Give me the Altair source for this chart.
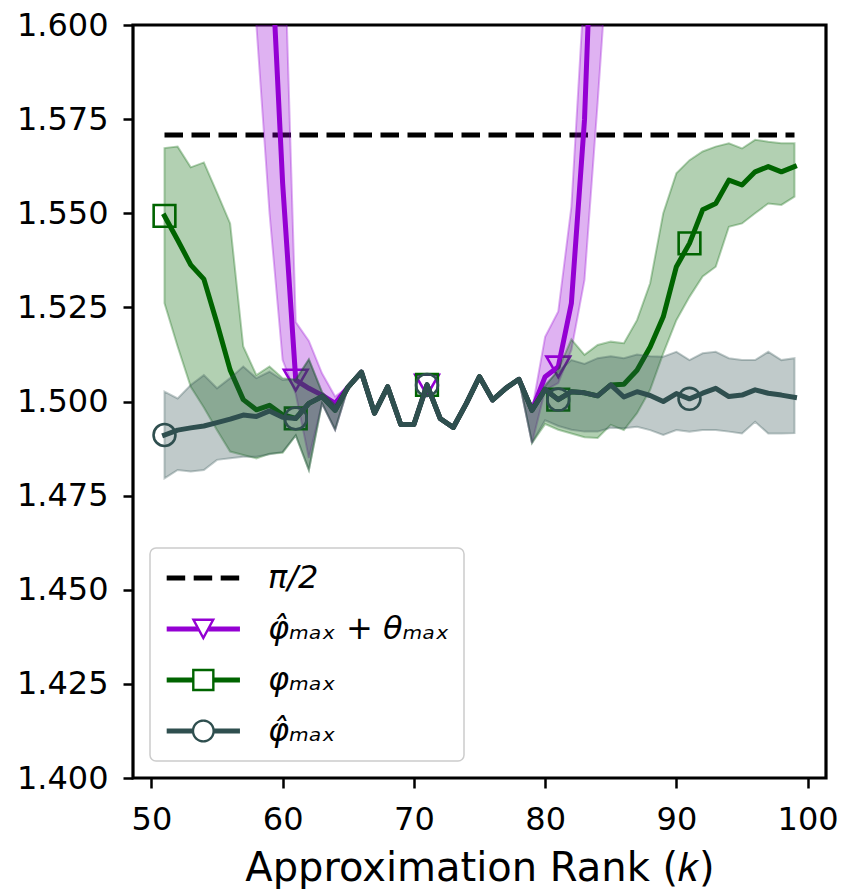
import math
import altair as alt
import pandas as pd

# ---------------- data ----------------
K = list(range(51, 100))
MARKER_K = [51, 61, 71, 81, 91]
X_TICKS = [50, 60, 70, 80, 90, 100]
Y_TICKS = [1.400, 1.425, 1.450, 1.475, 1.500, 1.525, 1.550, 1.575, 1.600]
KEYS = ["pi_half", "phi_hat_theta", "phi", "phi_hat"]
SERIES = ["\u03c0/2",
          "\u03c6\u0302\u2098\u2090\u2093 + \u03b8\u2098\u2090\u2093",
          "\u03c6\u2098\u2090\u2093",
          "\u03c6\u0302\u2098\u2090\u2093"]
COLORS = ["#000000", "#9400d3", "#006400", "#2f4f4f"]
PI_HALF = math.pi / 2

# phi_hat_max + theta_max (purple)
PURPLE = [2.10, 2.04, 1.98, 1.92, 1.86, 1.80, 1.74, 1.69, 1.6295, 1.5580,
          1.5057, 1.5035, 1.5017, 1.4995, 1.5039, 1.5078, 1.4969, 1.5039, 1.4939, 1.4939,
          1.5044, 1.4955, 1.4931, 1.4995, 1.5066, 1.5004, 1.5035, 1.5059, 1.4977, 1.5066,
          1.5092, 1.5261, 1.5748, 1.6686, 1.76, 1.84, 1.92, 1.99, 2.06, 2.12,
          2.18, 2.23, 2.28, 2.33, 2.37, 2.41, 2.45, 2.48, 2.51]
PURPLE_LO = [2.00, 1.95, 1.90, 1.85, 1.79, 1.73, 1.66, 1.600, 1.5501, 1.5110,
             1.5020, 1.4850, 1.4995, 1.4925, 1.5039, 1.5078, 1.4969, 1.5039, 1.4939, 1.4939,
             1.5044, 1.4955, 1.4931, 1.4995, 1.5066, 1.5004, 1.5035, 1.5059, 1.4890, 1.5030,
             1.5049, 1.5137, 1.5323, 1.5793, 1.630, 1.70, 1.78, 1.85, 1.92, 1.98,
             2.04, 2.09, 2.14, 2.19, 2.23, 2.27, 2.31, 2.34, 2.37]
PURPLE_HI = [2.20, 2.14, 2.08, 2.01, 1.95, 1.89, 1.83, 1.77, 1.72, 1.638,
             1.5211, 1.5161, 1.5075, 1.5013, 1.5039, 1.5078, 1.4969, 1.5039, 1.4939, 1.4939,
             1.5044, 1.4955, 1.4931, 1.4995, 1.5066, 1.5004, 1.5035, 1.5059, 1.4977, 1.5172,
             1.5239, 1.5517, 1.6112, 1.72, 1.85, 1.94, 2.02, 2.10, 2.17, 2.24,
             2.30, 2.36, 2.41, 2.46, 2.50, 2.54, 2.58, 2.61, 2.64]

# phi_max (green)
GREEN = [1.5493, 1.5429, 1.5363, 1.5325, 1.5208, 1.5084, 1.5005, 1.4978, 1.4990, 1.4965,
         1.4955, 1.4995, 1.5013, 1.4977, 1.5039, 1.5078, 1.4969, 1.5039, 1.4939, 1.4939,
         1.5044, 1.4955, 1.4931, 1.4995, 1.5066, 1.5004, 1.5035, 1.5059, 1.4977, 1.5032,
         1.5005, 1.5026, 1.5023, 1.5015, 1.5044, 1.5046, 1.5083, 1.5145, 1.5225, 1.5358,
         1.5420, 1.5509, 1.5526, 1.5588, 1.5575, 1.5610, 1.5624, 1.5610, 1.5624]
GREEN_LO = [1.5261, 1.5146, 1.5039, 1.4984, 1.4924, 1.4867, 1.4858, 1.4849, 1.4861, 1.4864,
            1.4910, 1.4818, 1.4995, 1.4925, 1.5039, 1.5078, 1.4969, 1.5039, 1.4939, 1.4939,
            1.5044, 1.4955, 1.4931, 1.4995, 1.5066, 1.5004, 1.5035, 1.5059, 1.4890, 1.4940,
            1.4925, 1.4915, 1.4905, 1.4903, 1.4938, 1.4924, 1.4969, 1.5031, 1.5128, 1.5216,
            1.5278, 1.5332, 1.5358, 1.5464, 1.5473, 1.5500, 1.5526, 1.5522, 1.5544]
GREEN_HI = [1.5673, 1.5677, 1.5622, 1.5635, 1.5555, 1.5473, 1.5146, 1.5070, 1.5093, 1.5062,
            1.5057, 1.5112, 1.5025, 1.4990, 1.5039, 1.5078, 1.4969, 1.5039, 1.4939, 1.4939,
            1.5044, 1.4955, 1.4931, 1.4995, 1.5066, 1.5004, 1.5035, 1.5059, 1.4977, 1.5040,
            1.5085, 1.5165, 1.5124, 1.5150, 1.5159, 1.5155, 1.5216, 1.5314, 1.5500, 1.5606,
            1.5641, 1.5664, 1.5677, 1.5686, 1.5672, 1.5695, 1.5690, 1.5686, 1.5686]

# phi_hat_max (dark slate gray)
GRAY = [1.4911, 1.4924, 1.4930, 1.4935, 1.4944, 1.4953, 1.4964, 1.4960, 1.4975, 1.4958,
        1.4955, 1.4995, 1.5013, 1.4977, 1.5039, 1.5078, 1.4969, 1.5039, 1.4939, 1.4939,
        1.5044, 1.4955, 1.4931, 1.4995, 1.5066, 1.5004, 1.5035, 1.5059, 1.4977, 1.5032,
        1.5005, 1.5026, 1.5023, 1.5015, 1.5044, 1.5012, 1.5026, 1.5016, 1.5000, 1.5021,
        1.5007, 1.5022, 1.5035, 1.5013, 1.5017, 1.5031, 1.5022, 1.5017, 1.5011]
GRAY_LO = [1.4796, 1.4818, 1.4814, 1.4818, 1.4845, 1.4849, 1.4853, 1.4853, 1.4860, 1.4866,
           1.4910, 1.4818, 1.4995, 1.4925, 1.5039, 1.5078, 1.4969, 1.5039, 1.4939, 1.4939,
           1.5044, 1.4955, 1.4931, 1.4995, 1.5066, 1.5004, 1.5035, 1.5059, 1.4890, 1.4950,
           1.4935, 1.4925, 1.4920, 1.4920, 1.4930, 1.4929, 1.4933, 1.4924, 1.4911, 1.4924,
           1.4920, 1.4924, 1.4924, 1.4920, 1.4915, 1.4946, 1.4915, 1.4915, 1.4916]
GRAY_HI = [1.5026, 1.5008, 1.5044, 1.5070, 1.5035, 1.5062, 1.5093, 1.5062, 1.5079, 1.5057,
           1.5060, 1.5112, 1.5025, 1.4990, 1.5039, 1.5078, 1.4969, 1.5039, 1.4939, 1.4939,
           1.5044, 1.4955, 1.4931, 1.4995, 1.5066, 1.5004, 1.5035, 1.5059, 1.4977, 1.5045,
           1.5080, 1.5110, 1.5100, 1.5115, 1.5120, 1.5115, 1.5125, 1.5120, 1.5119, 1.5132,
           1.5110, 1.5128, 1.5132, 1.5115, 1.5110, 1.5110, 1.5132, 1.5110, 1.5115]

frames = []
for key, v, lo, hi in [(KEYS[1], PURPLE, PURPLE_LO, PURPLE_HI),
                       (KEYS[2], GREEN, GREEN_LO, GREEN_HI),
                       (KEYS[3], GRAY, GRAY_LO, GRAY_HI)]:
    frames.append(pd.DataFrame({"k": K, "key": key, "v": v, "lo": lo, "hi": hi}))
df = pd.concat(frames, ignore_index=True)
df_pi = pd.DataFrame({"k": K, "key": KEYS[0], "v": [PI_HALF] * len(K)})
df_leg = pd.DataFrame({"k": [None] * 4, "v": [None] * 4, "series": SERIES})

# ---------------- legend symbol paths (units of sqrt(size)/2) ----------------
LEG_SIZE = 484
UNIT = math.sqrt(LEG_SIZE) / 2.0
CX, LX, RX = 2.12, -1.21, 5.45
T_LINE = 2.5 / UNIT
T_DASH = 2.5 / UNIT
RING = 2.4 / UNIT


def f(a):
    return f"{a:.3f}"


def rect(x0, x1, t):
    return f"M{f(x0)},{f(-t)}H{f(x1)}V{f(t)}H{f(x0)}Z"


def dashed_path():
    d, g = 18.5 / UNIT, 8.5 / UNIT
    parts, x = [], LX
    while x < RX - 0.2:
        parts.append(rect(x, min(x + d, RX), T_DASH))
        x += d + g
    return "".join(parts)


def triangle_path():
    a, top, bot = 1.08, -0.95, 1.05
    base, legs = 2 * a, 2 * math.hypot(a, bot - top)
    r_in = (0.5 * base * (bot - top)) / ((base + legs) / 2)
    icy = top + r_in
    s = (r_in - RING) / r_in
    ia, itop, ibot = a * s, icy + (top - icy) * s, icy + (bot - icy) * s

    def hw(y):
        return a * (1 - (y - top) / (bot - top))

    p = f"M{f(CX - a)},{f(top)}L{f(CX + a)},{f(top)}L{f(CX)},{f(bot)}Z"
    p += f"M{f(CX - ia)},{f(itop)}L{f(CX)},{f(ibot)}L{f(CX + ia)},{f(itop)}Z"
    p += (f"M{f(LX)},{f(-T_LINE)}H{f(CX - hw(-T_LINE))}"
          f"L{f(CX - hw(T_LINE))},{f(T_LINE)}H{f(LX)}Z")
    p += (f"M{f(CX + hw(-T_LINE))},{f(-T_LINE)}H{f(RX)}V{f(T_LINE)}"
          f"H{f(CX + hw(T_LINE))}Z")
    return p


def square_path():
    R = 1.02
    r = R - RING
    p = f"M{f(CX - R)},{f(-R)}H{f(CX + R)}V{f(R)}H{f(CX - R)}Z"
    p += f"M{f(CX - r)},{f(-r)}V{f(r)}H{f(CX + r)}V{f(-r)}Z"
    p += rect(LX, CX - R, T_LINE) + rect(CX + R, RX, T_LINE)
    return p


def circle_path():
    R = 1.05
    r = R - RING
    n = 40
    outer = [(CX + R * math.cos(2 * math.pi * i / n), R * math.sin(2 * math.pi * i / n)) for i in range(n)]
    inner = [(CX + r * math.cos(-2 * math.pi * i / n), r * math.sin(-2 * math.pi * i / n)) for i in range(n)]
    p = "M" + "L".join(f"{f(x)},{f(y)}" for x, y in outer) + "Z"
    p += "M" + "L".join(f"{f(x)},{f(y)}" for x, y in inner) + "Z"
    p += rect(LX, CX - R + 0.03, T_LINE) + rect(CX + R - 0.03, RX, T_LINE)
    return p


SHAPES = [dashed_path(), triangle_path(), square_path(), circle_path()]

# ---------------- encodings ----------------
FONT = "DejaVu Sans"
x_enc = alt.X("k:Q",
              scale=alt.Scale(domain=[48.6, 101.4], nice=False, zero=False),
              axis=alt.Axis(values=X_TICKS, title="Approximation Rank (\U0001d458)",
                            labelPadding=16, titlePadding=13, labelFlush=False))
y_axis = alt.Axis(values=Y_TICKS, format=".3f", title=None, labelPadding=15)
y_scale = alt.Scale(domain=[1.4, 1.6], nice=False, zero=False)
y_v = alt.Y("v:Q", scale=y_scale, axis=y_axis)
y_lo = alt.Y("lo:Q", scale=y_scale, axis=y_axis)
# plot layers use stroke / fill on the "key" field (no legend);
# the legend layer alone uses color + shape on the display labels
strk = alt.Stroke("key:N", scale=alt.Scale(domain=KEYS, range=COLORS), legend=None)
fill = alt.Fill("key:N", scale=alt.Scale(domain=KEYS, range=COLORS), legend=None)

layers = []
pi_line = alt.Chart(df_pi).mark_line(strokeWidth=5, strokeDash=[18.5, 8.5], clip=True).encode(
    x=x_enc, y=y_v, stroke=strk)
layers.append(pi_line)

shape_of = {KEYS[1]: "triangle-down", KEYS[2]: "square", KEYS[3]: "circle"}
size_of = {KEYS[1]: 560, KEYS[2]: 470, KEYS[3]: 480}
for key in KEYS[1:]:
    sub = df[df["key"] == key]
    band = alt.Chart(sub).mark_area(fillOpacity=0.3, strokeOpacity=0.3, strokeWidth=2,
                                    clip=True).encode(
        x=x_enc, y=y_lo, y2="hi:Q", fill=fill, stroke=strk)
    line = alt.Chart(sub).mark_line(strokeWidth=5, strokeJoin="round", strokeCap="square",
                                    clip=True).encode(x=x_enc, y=y_v, stroke=strk)
    pts = alt.Chart(sub[sub["k"].isin(MARKER_K)]).mark_point(
        shape=shape_of[key], size=size_of[key], filled=False, strokeWidth=2.6,
        opacity=1, clip=True).encode(x=x_enc, y=y_v, stroke=strk)
    layers += [band, line, pts]

leg = alt.Legend(orient="none", legendX=17, legendY=523, title=None,
                 labelFont=FONT, labelFontSize=32, labelColor="black",
                 labelFontStyle="italic",
                 labelOffset=72, labelLimit=500, symbolSize=LEG_SIZE,
                 symbolStrokeWidth=0, rowPadding=19, padding=14)
legend_layer = alt.Chart(df_leg).mark_point(filled=True, opacity=1, size=LEG_SIZE,
                                            clip=True).encode(
    x=x_enc, y=y_v,
    color=alt.Color("series:N", scale=alt.Scale(domain=SERIES, range=COLORS), legend=leg),
    shape=alt.Shape("series:N", scale=alt.Scale(domain=SERIES, range=SHAPES), legend=leg))
layers.append(legend_layer)

chart = alt.layer(*layers).properties(
    width=693, height=753,
    autosize=alt.AutoSizeParams(type="none"),
    padding={"left": 133, "top": 25, "right": 17, "bottom": 111},
).configure(font=FONT).configure_view(
    stroke="black", strokeWidth=3.2
).configure_axis(
    grid=False, domain=False, ticks=True, tickColor="black", tickWidth=2.5, tickSize=10,
    labelFont=FONT, labelFontSize=32, labelColor="black", labelOverlap=False,
    titleFont=FONT, titleFontSize=40, titleFontWeight="normal", titleColor="black",
).configure_legend(
    fillColor="rgba(255,255,255,0.8)", strokeColor="#cccccc", strokeWidth=1.5,
    cornerRadius=6,
)

chart.save("out.html", embed_options={"renderer": "svg", "actions": False})
